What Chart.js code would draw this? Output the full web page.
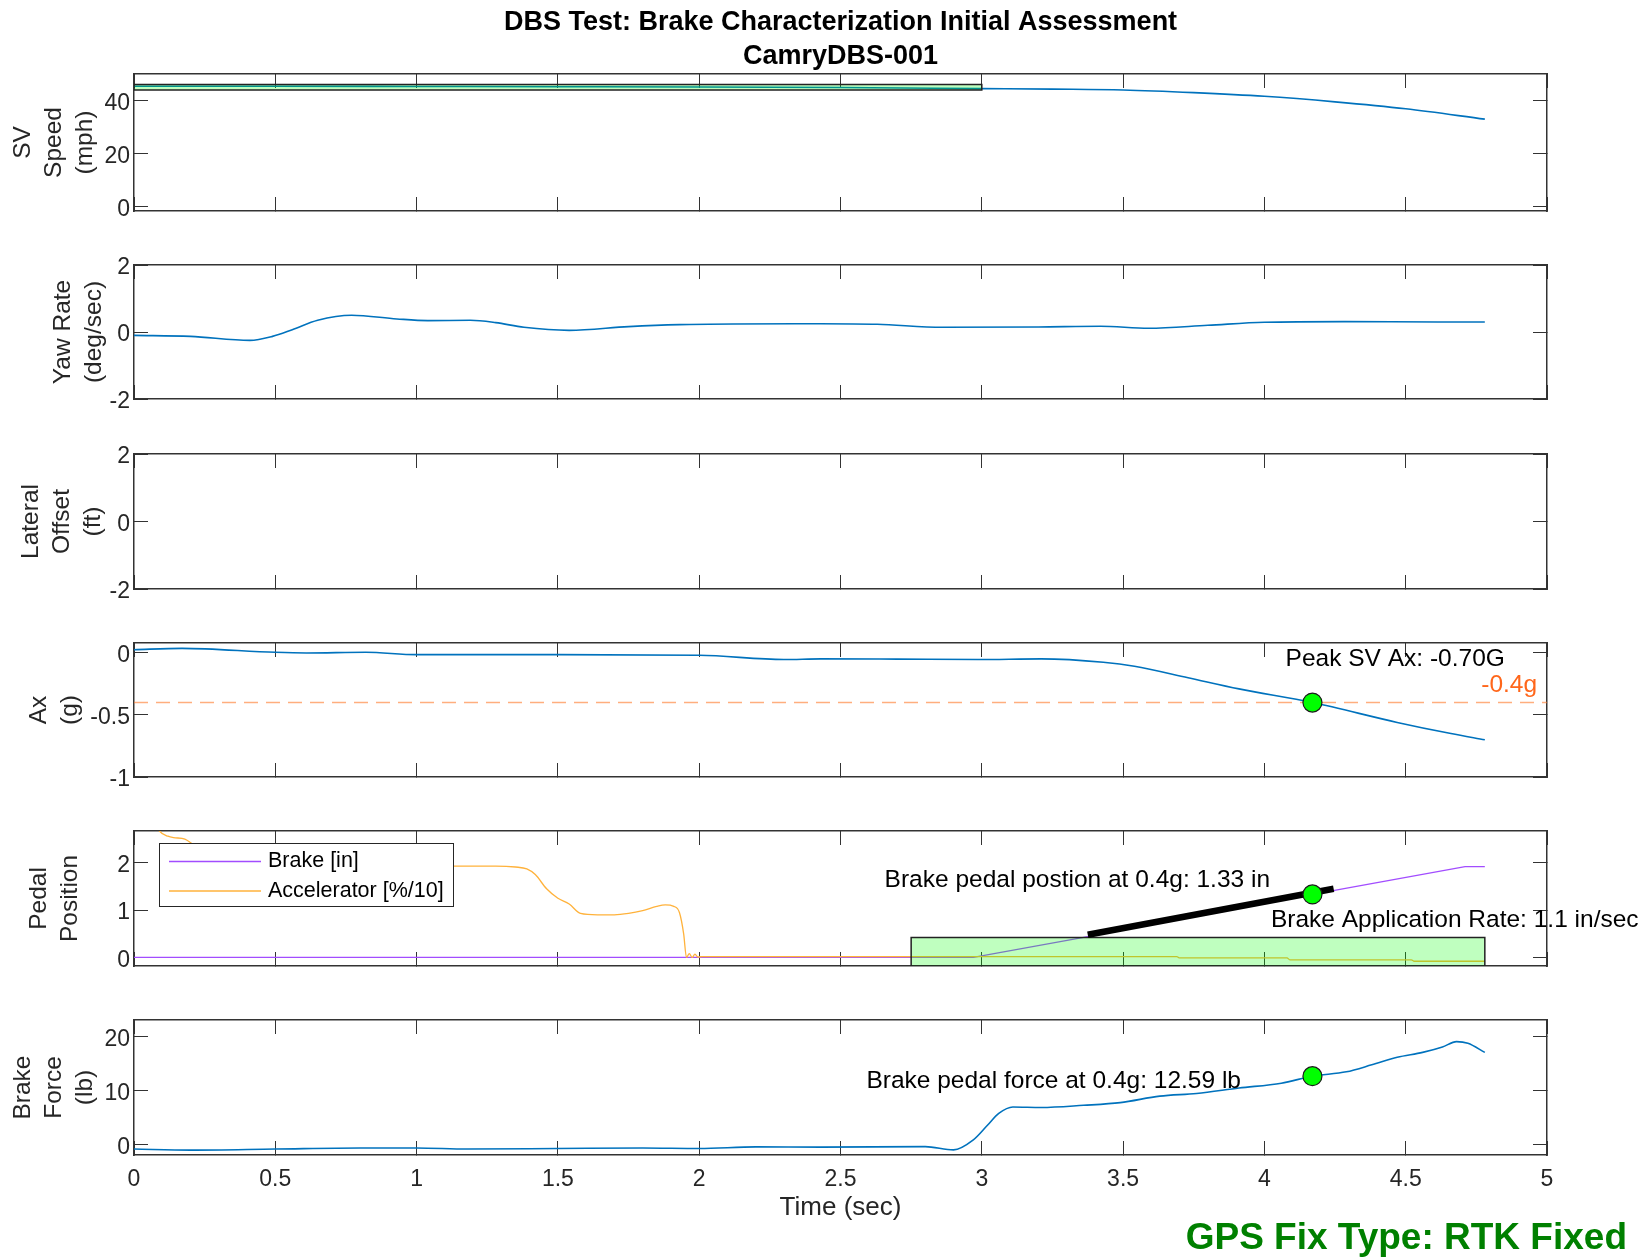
<!DOCTYPE html>
<html>
<head>
<meta charset="utf-8">
<script src="https://cdn.jsdelivr.net/npm/chart.js@4.4.1/dist/chart.umd.min.js"></script>
<style>
  html, body { margin: 0; padding: 0; background: #fff; }
  body { width: 1643px; height: 1257px; position: relative; overflow: hidden; }
  canvas { position: absolute; left: 0; }
</style>
</head>
<body>
<canvas id="speed"></canvas>
<canvas id="yaw"></canvas>
<canvas id="lateral"></canvas>
<canvas id="ax"></canvas>
<canvas id="pedal"></canvas>
<canvas id="force"></canvas>
<script>
// ---- data ----
var timeTicks = [0, 0.5, 1, 1.5, 2, 2.5, 3, 3.5, 4, 4.5, 5];

var speedTime = [0, 0.5, 1, 1.5, 2, 2.5, 3, 3.25, 3.5, 3.75, 4, 4.25, 4.5, 4.78];
var speedMph = [45.4, 45.4, 45.3, 45.2, 45.1, 44.9, 44.5, 44.3, 44.0, 43.0, 41.6, 39.5, 36.9, 33.0];
var speedBoxTime = [0, 3];
var speedBoxMph = [44, 46];
var speedTicks = [0, 20, 40];

var yawTime = [0, 0.2, 0.41, 0.49, 0.56, 0.65, 0.77, 0.93, 1.04, 1.19, 1.28, 1.38, 1.54, 1.75, 1.93, 2.12, 2.43, 2.63, 2.86, 3.2, 3.42, 3.59, 3.8, 4.0, 4.28, 4.62, 4.78];
var yawRate = [-0.1, -0.13, -0.25, -0.13, 0.07, 0.35, 0.5, 0.39, 0.34, 0.35, 0.28, 0.14, 0.05, 0.16, 0.22, 0.24, 0.245, 0.23, 0.14, 0.15, 0.17, 0.11, 0.2, 0.29, 0.31, 0.30, 0.30];
var yawTicks = [-2, 0, 2];
var latTicks = [-2, 0, 2];

var axTime = [0, 0.17, 0.5, 0.61, 0.82, 1.0, 1.5, 2.0, 2.3, 2.43, 2.7, 2.985, 3.21, 3.43, 3.54, 3.73, 3.91, 4.17, 4.47, 4.66, 4.78];
var axG = [0.026, 0.037, 0.005, 0.0, 0.005, -0.014, -0.014, -0.019, -0.053, -0.048, -0.05, -0.053, -0.048, -0.075, -0.107, -0.2, -0.29, -0.4, -0.56, -0.65, -0.70];
var axTicks = [-1, -0.5, 0];
var thresholdG = -0.4;

var brakeTime = [0, 2.97, 3.375, 4.17, 4.71, 4.78];
var brakeIn = [0, 0, 0.44, 1.33, 1.92, 1.92];
var accelTime = [0.07, 0.09, 0.12, 0.14, 0.18, 0.21, 0.26, 0.35, 0.6, 0.9, 1.13, 1.28, 1.35, 1.39, 1.42, 1.46, 1.5, 1.54, 1.58, 1.64, 1.7, 1.75, 1.8, 1.85, 1.88, 1.91, 1.93, 1.945, 1.955, 1.965, 1.975, 1.985, 1.995, 2.01, 2.5, 3.0, 3.69, 3.7, 4.08, 4.09, 4.52, 4.53, 4.78];
var accelPos = [2.9, 2.67, 2.56, 2.53, 2.5, 2.38, 2.15, 2.0, 1.95, 1.94, 1.93, 1.93, 1.91, 1.87, 1.75, 1.45, 1.25, 1.13, 0.93, 0.9, 0.9, 0.93, 0.99, 1.08, 1.11, 1.08, 0.95, 0.5, 0.0, 0.08, 0.0, 0.07, 0.01, 0.02, 0.02, 0.02, 0.02, -0.01, -0.01, -0.05, -0.05, -0.08, -0.08];
var rateTime = [3.375, 4.245];
var rateIn = [0.48, 1.45];
var pedalBoxTime = [2.75, 4.78];
var pedalBoxIn = [-0.18, 0.42];
var pedalTicks = [0, 1, 2];

var forceTime = [0, 0.2, 0.5, 0.8, 1.0, 1.18, 1.5, 1.8, 2.0, 2.2, 2.43, 2.8, 2.9, 2.97, 3.02, 3.06, 3.11, 3.21, 3.36, 3.49, 3.63, 3.76, 3.91, 4.06, 4.17, 4.29, 4.38, 4.47, 4.56, 4.63, 4.68, 4.72, 4.78];
var forceLb = [-0.9, -1.1, -0.9, -0.7, -0.7, -0.9, -0.8, -0.7, -0.8, -0.5, -0.55, -0.45, -1.05, 0.8, 3.5, 5.7, 6.9, 6.8, 7.2, 7.7, 8.9, 9.4, 10.4, 11.3, 12.59, 13.4, 14.7, 16.1, 17.0, 18.0, 19.0, 18.7, 17.0];
var forceTicks = [0, 10, 20];

var hitTime = 4.17;
var hitAx = -0.4;
var hitBrake = 1.33;
var hitForce = 12.59;

// ---- styling ----
var FONT = '"Liberation Sans", Arial, Helvetica, sans-serif';
var AXIS = '#333333';
var TXT = '#262626';
var BLUE = '#0072BD';

function pts(xs, ys) {
  return xs.map(function (x, i) { return {x: x, y: ys[i]}; });
}
function rect(xs, ys) {
  return [{x: xs[0], y: ys[0]}, {x: xs[1], y: ys[0]}, {x: xs[1], y: ys[1]}, {x: xs[0], y: ys[1]}, {x: xs[0], y: ys[0]}];
}
function lineSet(data, color, width, order) {
  return {data: data, borderColor: color, borderWidth: width, pointRadius: 0,
          cubicInterpolationMode: 'monotone', fill: false, order: order};
}
function markerSet(x, y) {
  return {data: [{x: x, y: y}], showLine: false, pointRadius: 9.5, pointBackgroundColor: '#00ff00',
          pointBorderColor: '#1a1a1a', pointBorderWidth: 1.2, order: 0};
}
function boxSet(data, order) {
  return {data: data, fill: 'shape', backgroundColor: 'rgba(0,255,0,0.25)', borderColor: '#222',
          borderWidth: 1.5, pointRadius: 0, tension: 0, order: order};
}
function setTicks(values) {
  return function (scale) { scale.ticks = values.map(function (v) { return {value: v}; }); };
}
function plainLabel(v) { return String(v); }

// text placed in data coordinates
function notes(items) {
  return {
    id: 'notes',
    afterDatasetsDraw: function (chart) {
      var ctx = chart.ctx;
      items.forEach(function (n) {
        ctx.save();
        ctx.font = '24.5px ' + FONT;
        ctx.fillStyle = n.color || '#000';
        ctx.textAlign = n.align || 'left';
        ctx.textBaseline = 'middle';
        ctx.fillText(n.text, chart.scales.x.getPixelForValue(n.x), chart.scales.y.getPixelForValue(n.y));
        ctx.restore();
      });
    }
  };
}

// boxed legend drawn over the data (northwest inset)
function boxLegend(indexes) {
  return {
    id: 'boxLegend',
    afterDatasetsDraw: function (chart) {
      var ctx = chart.ctx, a = chart.chartArea;
      var left = a.left + 25, top = a.top + 12, w = 294, h = 63;
      ctx.save();
      ctx.fillStyle = '#fff';
      ctx.fillRect(left, top, w, h);
      ctx.strokeStyle = '#262626';
      ctx.lineWidth = 1;
      ctx.strokeRect(left + 0.5, top + 0.5, w, h);
      ctx.font = '21.5px ' + FONT;
      ctx.textBaseline = 'middle';
      indexes.forEach(function (di, row) {
        var ds = chart.data.datasets[di];
        var y = top + 18.5 + row * 29.5;
        ctx.strokeStyle = ds.borderColor;
        ctx.lineWidth = 1.5;
        ctx.beginPath();
        ctx.moveTo(left + 10, y);
        ctx.lineTo(left + 102, y);
        ctx.stroke();
        ctx.fillStyle = '#000';
        ctx.fillText(ds.label, left + 109, y);
      });
      ctx.restore();
    }
  };
}

function tickGrid() {
  return {drawOnChartArea: false, drawTicks: true, tickLength: -14, tickColor: AXIS, tickWidth: 1};
}
function noPad(s) {
  s.paddingTop = 0; s.paddingBottom = 0; s.paddingLeft = 0; s.paddingRight = 0;
}

function makePanel(id, top, height, cfg) {
  var canvas = document.getElementById(id);
  canvas.width = 1643;
  canvas.height = height;
  canvas.style.top = top + 'px';
  var tickFont = {family: FONT, size: 23};
  return new Chart(canvas, {
    type: 'line',
    data: {datasets: cfg.datasets},
    plugins: cfg.plugins || [],
    options: {
      responsive: false,
      animation: false,
      devicePixelRatio: 1,
      events: [],
      layout: {padding: {left: 0, right: 16, top: cfg.padTop, bottom: 0}},
      plugins: {
        legend: {display: false},
        tooltip: {enabled: false},
        title: cfg.title || {display: false},
        subtitle: cfg.subtitle || {display: false}
      },
      scales: {
        x: {
          type: 'linear', position: 'bottom', min: 0, max: 5,
          afterBuildTicks: setTicks(timeTicks),
          afterFit: function (s) { s.height = cfg.xHeight; noPad(s); },
          grid: tickGrid(),
          border: {display: true, color: AXIS, width: 1.5},
          ticks: {display: !!cfg.showX, color: TXT, font: tickFont, padding: 25, maxRotation: 0,
                  autoSkip: false, callback: plainLabel},
          title: cfg.showX ? {display: true, text: 'Time (sec)', color: TXT,
                 font: {family: FONT, size: 26}, padding: {top: 0, bottom: 0}} : {display: false}
        },
        x2: {
          type: 'linear', position: 'top', min: 0, max: 5,
          afterBuildTicks: setTicks(timeTicks),
          afterFit: function (s) { s.height = 0; noPad(s); },
          grid: tickGrid(),
          border: {display: true, color: AXIS, width: 1.5},
          ticks: {display: false}
        },
        y: {
          type: 'linear', position: 'left', min: cfg.min, max: cfg.max,
          afterBuildTicks: setTicks(cfg.ticks),
          afterFit: function (s) { s.width = 134; noPad(s); },
          grid: tickGrid(),
          border: {display: true, color: AXIS, width: 1.5},
          ticks: {color: TXT, font: tickFont, padding: 18, labelOffset: 3, callback: plainLabel},
          title: {display: true, text: cfg.label, color: TXT,
                  font: {family: FONT, size: 24.5, lineHeight: '31px'},
                  padding: {top: cfg.labelPad, bottom: 0}}
        },
        y2: {
          type: 'linear', position: 'right', min: cfg.min, max: cfg.max,
          afterBuildTicks: setTicks(cfg.ticks),
          afterFit: function (s) { s.width = 80; noPad(s); },
          grid: tickGrid(),
          border: {display: true, color: AXIS, width: 1.5},
          ticks: {display: false}
        }
      }
    }
  });
}

// SV speed
makePanel('speed', 0, 231, {
  padTop: 0, xHeight: 20, min: -1.6, max: 50, ticks: speedTicks,
  label: ['SV', 'Speed', '(mph)'], labelPad: 7.5,
  title: {display: true, text: ['DBS Test: Brake Characterization Initial Assessment', 'CamryDBS-001'],
          color: '#000', fullSize: false,
          font: {family: FONT, size: 27, weight: 'bold', lineHeight: '34px'}, padding: {top: 6, bottom: 0}},
  datasets: [
    lineSet(pts(speedTime, speedMph), BLUE, 1.6, 1),
    boxSet(rect(speedBoxTime, speedBoxMph), 0)
  ]
});

// yaw rate
makePanel('yaw', 245, 174, {
  padTop: 20, xHeight: 20, min: -2, max: 2, ticks: yawTicks,
  label: ['Yaw Rate', '(deg/sec)'], labelPad: 47.5,
  datasets: [lineSet(pts(yawTime, yawRate), BLUE, 1.6, 1)]
});

// lateral offset (no data)
makePanel('lateral', 434, 175, {
  padTop: 20, xHeight: 20, min: -2, max: 2, ticks: latTicks,
  label: ['Lateral', 'Offset', '(ft)'], labelPad: 15.5,
  datasets: []
});

// longitudinal acceleration
makePanel('ax', 623, 174, {
  padTop: 20, xHeight: 20, min: -1, max: 0.08, ticks: axTicks,
  label: ['Ax', '(g)'], labelPad: 23.5,
  datasets: [
    lineSet(pts(axTime, axG), BLUE, 1.6, 2),
    {data: pts([0, 5], [thresholdG, thresholdG]), borderColor: 'rgba(255,120,40,0.6)', borderWidth: 1.6,
     borderDash: [14, 8], pointRadius: 0, fill: false, order: 1},
    markerSet(hitTime, hitAx)
  ],
  plugins: [notes([
    {x: 4.075, y: -0.053, text: 'Peak SV Ax: -0.70G'},
    {x: 4.965, y: -0.26, text: '-0.4g', align: 'right', color: '#FF661A'}
  ])]
});

// pedal position
var pedalSets = [
  Object.assign(lineSet(pts(brakeTime, brakeIn), '#A24DFF', 1.3, 4), {label: 'Brake [in]', cubicInterpolationMode: 'default', tension: 0}),
  Object.assign(lineSet(pts(accelTime, accelPos), '#FFB23B', 1.3, 3), {label: 'Accelerator [%/10]'}),
  boxSet(rect(pedalBoxTime, pedalBoxIn), 2),
  {data: pts(rateTime, rateIn), borderColor: '#000', borderWidth: 6.5, pointRadius: 0, fill: false, order: 1},
  markerSet(hitTime, hitBrake)
];
makePanel('pedal', 811, 175, {
  padTop: 20, xHeight: 20, min: -0.18, max: 2.67, ticks: pedalTicks,
  label: ['Pedal', 'Position'], labelPad: 23.5,
  datasets: pedalSets,
  plugins: [
    notes([
      {x: 4.02, y: 1.64, text: 'Brake pedal postion at 0.4g: 1.33 in', align: 'right'},
      {x: 4.023, y: 0.79, text: 'Brake Application Rate: 1.1 in/sec'}
    ]),
    boxLegend([0, 1])
  ]
});

// brake force
makePanel('force', 1000, 257, {
  padTop: 20, xHeight: 68, showX: true, min: -2, max: 23, ticks: forceTicks,
  label: ['Brake', 'Force', '(lb)'], labelPad: 8,
  subtitle: {display: true, position: 'bottom', align: 'end', fullSize: true,
             text: 'GPS Fix Type: RTK Fixed', color: '#008000',
             font: {family: FONT, size: 37, weight: 'bold', lineHeight: '31px'}, padding: {top: 0, bottom: 3}},
  datasets: [
    lineSet(pts(forceTime, forceLb), BLUE, 1.6, 1),
    markerSet(hitTime, hitForce)
  ],
  plugins: [notes([
    {x: 3.917, y: 11.7, text: 'Brake pedal force at 0.4g: 12.59 lb', align: 'right'}
  ])]
});
</script>
</body>
</html>
